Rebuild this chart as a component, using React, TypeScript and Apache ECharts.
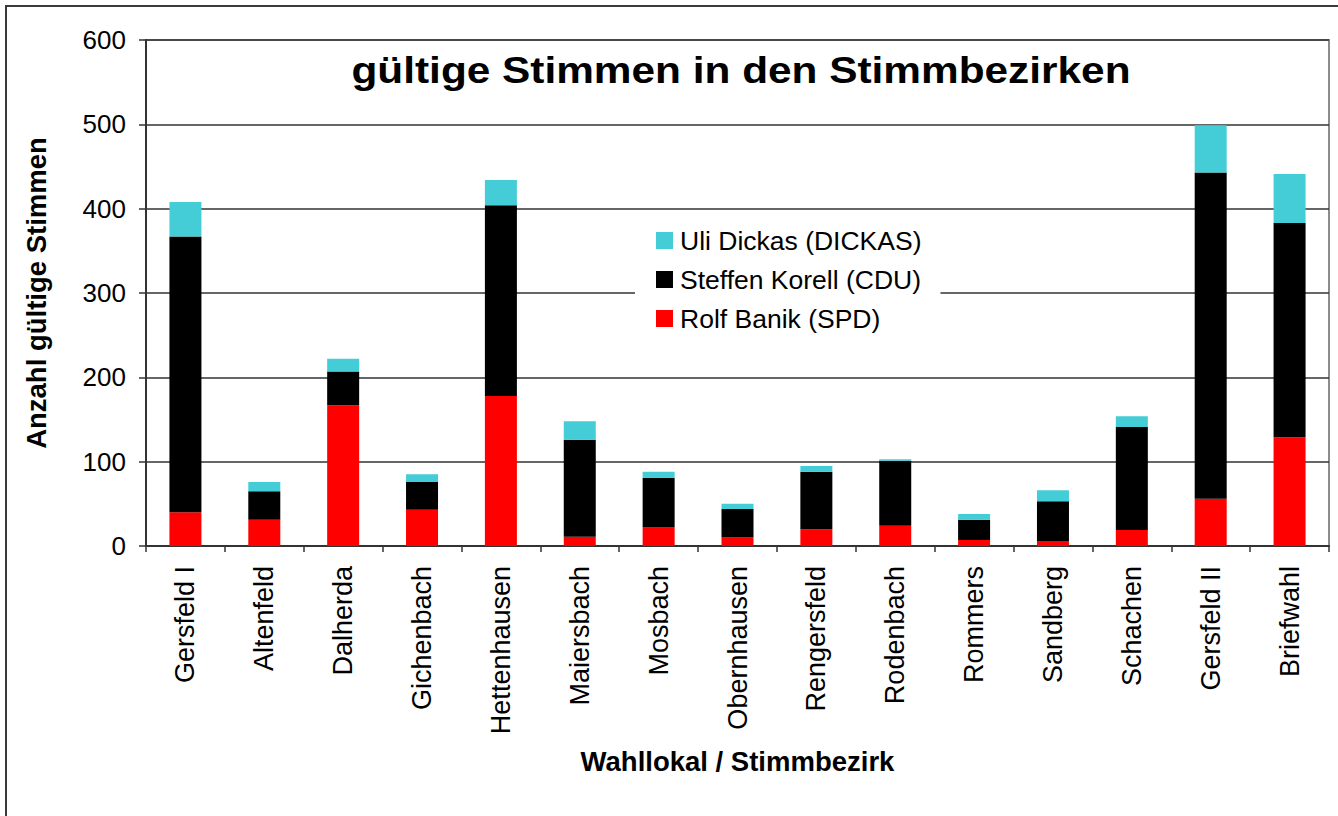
import React, { useEffect, useRef } from "react";
import * as echarts from "echarts";

const categories = [
  "Gersfeld I",
  "Altenfeld",
  "Dalherda",
  "Gichenbach",
  "Hettenhausen",
  "Maiersbach",
  "Mosbach",
  "Obernhausen",
  "Rengersfeld",
  "Rodenbach",
  "Rommers",
  "Sandberg",
  "Schachen",
  "Gersfeld II",
  "Briefwahl",
];
const spdValues = [40, 31, 167, 43, 178, 11, 22, 10, 20, 24, 7, 6, 19, 56, 129];
const cduValues = [327, 34, 40, 33, 226, 115, 59, 34, 68, 77, 24, 47, 122, 387, 254];
const dickasValues = [41, 11, 15, 9, 30, 22, 7, 6, 7, 2, 7, 13, 13, 56, 58];

const seriesNames = ["Rolf Banik (SPD)", "Steffen Korell (CDU)", "Uli Dickas (DICKAS)"];
const legendOrder = ["Uli Dickas (DICKAS)", "Steffen Korell (CDU)", "Rolf Banik (SPD)"];
const titleText = "gültige Stimmen in den Stimmbezirken";
const yAxisName = "Anzahl gültige Stimmen";
const xAxisName = "Wahllokal / Stimmbezirk";

const FONT = "'Liberation Sans', Arial, sans-serif";

export default function App() {
  const ref = useRef<HTMLDivElement>(null);

  useEffect(() => {
    if (!ref.current) return;
    const chart = echarts.init(ref.current, null, { renderer: "svg" });
    const option: any = {
      animation: false,
      backgroundColor: "#ffffff",
      textStyle: { fontFamily: FONT, color: "#000" },
      grid: {
        left: 146,
        top: 40,
        right: 9,
        bottom: 270,
        show: true,
        borderColor: "#8c8c8c",
        borderWidth: 2,
        backgroundColor: "transparent",
      },
      graphic: [
        {
          type: "rect",
          silent: true,
          shape: { x: 6, y: 6, width: 1345, height: 825 },
          style: { fill: "none", stroke: "#3a3a3a", lineWidth: 2 },
          z: 0,
        },
        {
          type: "text",
          x: 741,
          y: 70,
          scaleX: 1.145,
          scaleY: 1,
          z: 10,
          style: {
            text: titleText,
            fontFamily: FONT,
            fontSize: 37,
            fontWeight: "bold",
            fill: "#000",
            align: "center",
            verticalAlign: "middle",
          },
        },
      ],
      legend: {
        data: legendOrder,
        orient: "vertical",
        left: 635,
        top: 214,
        padding: [13, 19, 13, 21],
        backgroundColor: "#ffffff",
        itemWidth: 17,
        itemHeight: 17,
        itemGap: 12,
        icon: "rect",
        z: 5,
        textStyle: {
          fontFamily: FONT,
          fontSize: 26.5,
          lineHeight: 27,
          color: "#000",
          padding: [0, 0, 0, 2],
        },
      },
      xAxis: {
        type: "category",
        data: categories,
        boundaryGap: true,
        name: xAxisName,
        nameLocation: "middle",
        nameGap: 201,
        nameTextStyle: { fontFamily: FONT, fontSize: 27.5, fontWeight: "bold", color: "#000" },
        axisLine: { show: true, lineStyle: { color: "#333", width: 2 } },
        axisTick: { show: true, length: 6, lineStyle: { color: "#333", width: 1.5 } },
        axisLabel: {
          rotate: 90,
          margin: 20,
          fontFamily: FONT,
          fontSize: 27,
          color: "#000",
          interval: 0,
        },
        splitLine: { show: false },
      },
      yAxis: {
        type: "value",
        min: 0,
        max: 600,
        interval: 100,
        name: yAxisName,
        nameLocation: "middle",
        nameGap: 96,
        nameTextStyle: { fontFamily: FONT, fontSize: 27.5, fontWeight: "bold", color: "#000" },
        axisLine: { show: true, lineStyle: { color: "#333", width: 2 } },
        axisTick: { show: true, length: 7, lineStyle: { color: "#333", width: 1.5 } },
        axisLabel: { margin: 20, fontFamily: FONT, fontSize: 26, color: "#000" },
        splitLine: { show: true, lineStyle: { color: "#333", width: 1.5 } },
      },
      series: [
        {
          name: seriesNames[0],
          type: "bar",
          stack: "total",
          barWidth: 32,
          data: spdValues,
          itemStyle: { color: "#ff0000" },
        },
        {
          name: seriesNames[1],
          type: "bar",
          stack: "total",
          barWidth: 32,
          data: cduValues,
          itemStyle: { color: "#000000" },
        },
        {
          name: seriesNames[2],
          type: "bar",
          stack: "total",
          barWidth: 32,
          data: dickasValues,
          itemStyle: { color: "#45cdd7" },
        },
      ],
    };
    chart.setOption(option);
    return () => chart.dispose();
  }, []);

  return (
    <div
      ref={ref}
      style={{ position: "fixed", left: 0, top: 0, width: 1338, height: 816 }}
    />
  );
}
